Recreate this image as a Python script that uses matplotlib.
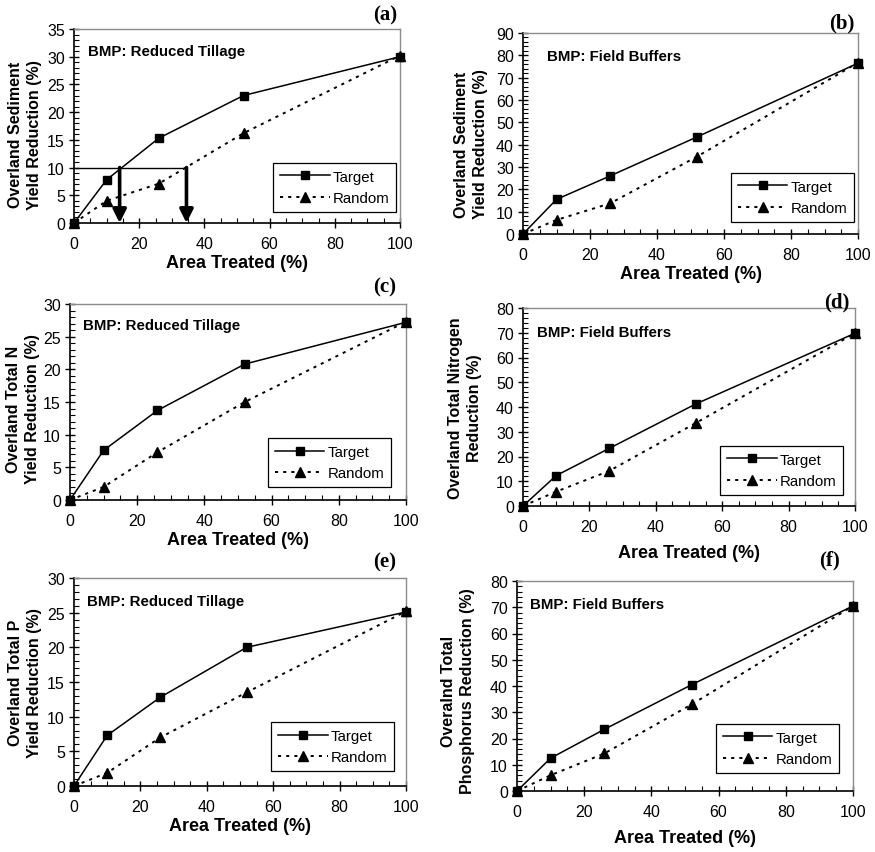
import matplotlib
matplotlib.use("Agg")
import matplotlib.pyplot as plt
from matplotlib.ticker import MultipleLocator

plt.rcParams['font.family'] = ['Liberation Sans', 'DejaVu Sans']

area = [0, 10, 26, 52, 100]

target_a = [0, 7.8, 15.3, 23.0, 30.0]
random_a = [0, 4.0, 7.1, 16.2, 30.2]
target_b = [0, 15.5, 26.0, 43.5, 76.5]
random_b = [0, 6.3, 13.7, 34.7, 76.7]
target_c = [0, 7.6, 13.7, 20.8, 27.2]
random_c = [0, 2.0, 7.3, 15.0, 27.3]
target_d = [0, 12.3, 23.3, 41.2, 69.8]
random_d = [0, 5.8, 14.2, 33.5, 69.8]
target_e = [0, 7.3, 12.8, 20.0, 25.1]
random_e = [0, 1.9, 7.0, 13.5, 25.2]
target_f = [0, 12.5, 23.5, 40.5, 70.5]
random_f = [0, 6.0, 14.3, 33.0, 70.5]

panel_tags = ['(a)', '(b)', '(c)', '(d)', '(e)', '(f)']
bmp_labels = ['BMP: Reduced Tillage', 'BMP: Field Buffers',
              'BMP: Reduced Tillage', 'BMP: Field Buffers',
              'BMP: Reduced Tillage', 'BMP: Field Buffers']
ylabels = ['Overland Sediment\nYield Reduction (%)',
           'Overland Sediment\nYield Reduction (%)',
           'Overland Total N\nYield Reduction (%)',
           'Overland Total Nitrogen\nReduction (%)',
           'Overland Total P\nYield Reduction (%)',
           'Overalnd Total\nPhosphorus Reduction (%)']
ymax = [35, 90, 30, 80, 30, 80]
ymajor = [5, 10, 5, 10, 5, 10]
yminor = [1, 2, 1, 2, 1, 2]

# threshold illustration in panel (a)
threshold = 10
arrow_x = [14, 34.5]

targets = [target_a, target_b, target_c, target_d, target_e, target_f]
randoms = [random_a, random_b, random_c, random_d, random_e, random_f]

W, H = 875, 853
fig = plt.figure(figsize=(W / 100, H / 100), dpi=100)

# pixel boxes: left, right, top, bottom
boxes = [(74, 400, 30, 224), (523, 858, 34, 235),
         (70, 406, 305, 501), (523, 855, 309, 507),
         (74, 406, 579, 787), (517, 853, 582, 792)]
legend_anchor = [(0.988, 0.057), (0.988, 0.06), (0.955, 0.066),
                 (0.964, 0.056), (0.964, 0.072), (0.958, 0.086)]
bmp_pos = [(0.043, 0.887), (0.072, 0.886), (0.039, 0.893),
           (0.042, 0.879), (0.039, 0.889), (0.039, 0.89)]
ylab_pos = [(-0.098, 0.46), (-0.104, 0.45), (-0.089, 0.47),
            (-0.123, 0.5), (-0.096, 0.5), (-0.125, 0.48)]
xlab_pad = [2, 2, 2, 7, 2, 7]
tag_pos = [(385, 15), (842, 23), (385, 287), (837, 302), (385, 562), (830, 560)]

axes = []
for i, (l, r, t, b) in enumerate(boxes):
    ax = fig.add_axes([l / W, 1 - b / H, (r - l) / W, (b - t) / H])
    axes.append(ax)
    ax.plot(area, targets[i], '-', color='black', lw=1.1, marker='s',
            ms=5.5, label='Target', clip_on=False, zorder=5)
    ax.plot(area, randoms[i], linestyle=(0, (1.6, 2.6)), color='black', lw=1.4,
            marker='^', ms=6.5, label='Random', clip_on=False, zorder=4)
    ax.set_xlim(0, 100)
    ax.set_ylim(0, ymax[i])
    ax.xaxis.set_major_locator(MultipleLocator(20))
    ax.xaxis.set_minor_locator(MultipleLocator(5))
    ax.yaxis.set_major_locator(MultipleLocator(ymajor[i]))
    ax.yaxis.set_minor_locator(MultipleLocator(yminor[i]))
    ax.tick_params(which='major', direction='inout', length=7, width=1,
                   labelsize=11.5, pad=3)
    ax.tick_params(which='minor', direction='in', length=3.5, width=0.8)
    ax.tick_params(axis='x', which='major', pad=6)
    for s in ['left', 'bottom']:
        ax.spines[s].set_color('black')
        ax.spines[s].set_linewidth(1.2)
    for s in ['top', 'right']:
        ax.spines[s].set_color('#8c8c8c')
        ax.spines[s].set_linewidth(1.0)
    ax.set_xlabel('Area Treated (%)', fontsize=13, fontweight='bold',
                  labelpad=xlab_pad[i])
    ax.set_ylabel(ylabels[i], fontsize=11.5, fontweight='bold', linespacing=1.35)
    ax.yaxis.set_label_coords(*ylab_pos[i])
    ax.text(bmp_pos[i][0], bmp_pos[i][1], bmp_labels[i], transform=ax.transAxes,
            fontsize=10.8, fontweight='bold', va='center', ha='left')
    leg = ax.legend(loc='lower right', bbox_to_anchor=legend_anchor[i],
                    borderaxespad=0, fontsize=10.8, handlelength=3.3,
                    fancybox=False, framealpha=1, edgecolor='black',
                    borderpad=0.45, labelspacing=0.5, handletextpad=0.2)
    leg.get_frame().set_linewidth(0.9)
    fig.text(tag_pos[i][0] / W, 1 - tag_pos[i][1] / H, panel_tags[i],
             family='Liberation Serif', fontweight='bold', fontsize=15,
             ha='center', va='center')

# threshold lines and arrows in panel (a)
ax = axes[0]
ax.plot([0, arrow_x[1]], [threshold, threshold], color='black', lw=1.0, zorder=3)
for xa in arrow_x:
    ax.annotate('', xy=(xa, 0), xytext=(xa, threshold),
                arrowprops=dict(arrowstyle='-|>,head_length=0.8,head_width=0.4',
                                lw=2.6, color='black', shrinkA=0, shrinkB=0),
                zorder=6, annotation_clip=False)

fig.savefig('out.png', dpi=100)
